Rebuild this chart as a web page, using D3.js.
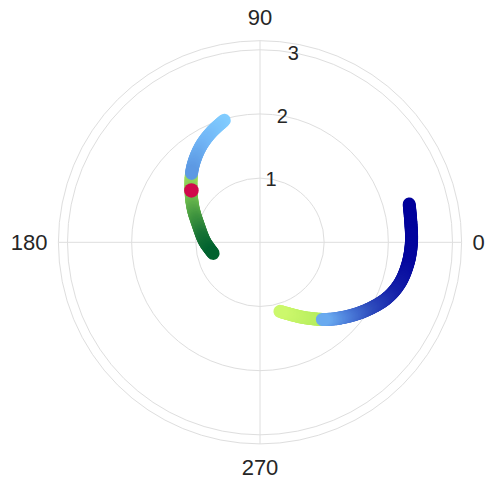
<!DOCTYPE html>
<html>
<head>
<meta charset="utf-8">
<script src="https://cdn.jsdelivr.net/npm/d3@7"></script>
<style>
  html, body { margin: 0; padding: 0; background: #ffffff; }
  svg { display: block; font-family: "Liberation Sans", Arial, sans-serif; }
</style>
</head>
<body>
<svg id="chart" width="488" height="483"></svg>
<script>
// Spiral arc A (right side): angle in degrees, radius
const arcATheta = [14.4, 7.2, 0, -8.1, -16.3, -23.8, -32.4, -40.6, -49.1, -60.1, -73.9];
const arcAR     = [2.40, 2.37, 2.36, 2.33, 2.27, 2.16, 1.97, 1.78, 1.59, 1.35, 1.12];
// Spiral arc B (left side)
const arcBTheta = [106.3, 113.6, 120.9, 127.7, 134.0, 142.8, 153.0, 164.3, 179.4, 193.3];
const arcBR     = [1.98, 1.88, 1.77, 1.65, 1.53, 1.35, 1.17, 1.00, 0.86, 0.75];
// Angle where each arc changes from its green part to its blue part
const arcASplit = -51;
const arcBSplit = 135;
// Highlighted point
const markerTheta = [142.9];
const markerR     = [1.34];
// Axis ticks
const radialTicks  = [1, 2, 3];
const angularTicks = [0, 90, 180, 270];
const rMax = Math.PI;

const width = 488, height = 483;
const cx = 260, cy = 242.3, outerR = 201.6;
const svg = d3.select("#chart");

const rScale = d3.scaleLinear().domain([0, rMax]).range([0, outerR]);
// math angle (deg, counter-clockwise from east) -> d3 radial angle (rad, clockwise from north)
const aScale = d3.scaleLinear().domain([0, 360]).range([Math.PI / 2, Math.PI / 2 - 2 * Math.PI]);

const g = svg.append("g").attr("transform", `translate(${cx},${cy})`);
const gridColor = "#dedede";

// grid circles
g.selectAll("circle.grid")
  .data(radialTicks.concat([rMax]))
  .join("circle")
  .attr("class", "grid")
  .attr("r", d => rScale(d))
  .attr("fill", "none")
  .attr("stroke", gridColor)
  .attr("stroke-width", 1);

// angular grid lines
g.selectAll("line.spoke")
  .data(angularTicks)
  .join("line")
  .attr("class", "spoke")
  .attr("x1", 0).attr("y1", 0)
  .attr("x2", d => outerR * Math.cos(d * Math.PI / 180))
  .attr("y2", d => -outerR * Math.sin(d * Math.PI / 180))
  .attr("stroke", gridColor)
  .attr("stroke-width", 1);

// radial tick labels along the 80 degree direction
const labelAngle = 80 * Math.PI / 180;
g.selectAll("text.rtick")
  .data(radialTicks)
  .join("text")
  .attr("class", "rtick")
  .attr("x", d => rScale(d) * Math.cos(labelAngle))
  .attr("y", d => -rScale(d) * Math.sin(labelAngle))
  .attr("text-anchor", "middle")
  .attr("dominant-baseline", "central")
  .attr("font-size", 20)
  .attr("fill", "#262626")
  .text(d => d);

// angular tick labels outside the outer circle
g.selectAll("text.atick")
  .data(angularTicks)
  .join("text")
  .attr("class", "atick")
  .attr("text-anchor", "middle")
  .attr("dominant-baseline", "central")
  .attr("font-size", 22)
  .attr("fill", "#262626")
  .text(d => d)
  .each(function(d) {
    const bb = this.getBBox();
    const a = d * Math.PI / 180;
    const ext = Math.abs(Math.cos(a)) * bb.width / 2 + Math.abs(Math.sin(a)) * bb.height / 2;
    const dist = outerR + 11 + ext;
    d3.select(this)
      .attr("x", dist * Math.cos(a))
      .attr("y", -dist * Math.sin(a));
  });

// colour ramps for each part of the arcs (t = 0 at the split end)
const ramps = {
  aGreen: d3.scaleLinear().domain([0, 1]).range(["#b2ec5c", "#cdf86c"]),
  aBlue:  d3.scaleLinear().domain([0, 0.12, 0.28, 0.45, 0.65, 1])
            .range(["#6aabf0", "#4f82dc", "#2e4bbc", "#1520a8", "#05079e", "#00009b"]),
  bBlue:  d3.scaleLinear().domain([0, 0.5, 1]).range(["#5c98e2", "#72b6f6", "#82ceff"]),
  bGreen: d3.scaleLinear().domain([0, 0.2, 0.45, 0.7, 1])
            .range(["#a8e262", "#78c452", "#3f943f", "#187436", "#00612f"])
};

const lineW = 13;
const radial = d3.lineRadial()
  .angle(d => aScale(d[0]))
  .radius(d => rScale(d[1]))
  .curve(d3.curveCatmullRom.alpha(0.5));

function drawArc(thetas, radii, split, parts) {
  const pts = thetas.map((t, i) => [t, radii[i]]);
  const ref = d3.mean(thetas);
  const tmp = g.append("path").attr("d", radial(pts)).attr("fill", "none");
  const node = tmp.node();
  const L = node.getTotalLength();
  const n = Math.ceil(L / 1.5);
  const samples = d3.range(n + 1).map(i => node.getPointAtLength(L * i / n));
  tmp.remove();
  const first = thetas[0], last = thetas[thetas.length - 1];
  const segs = [];
  for (let i = 0; i < n; i++) {
    const p = samples[i], q = samples[i + 1];
    let ang = Math.atan2(-(p.y + q.y) / 2, (p.x + q.x) / 2) * 180 / Math.PI;
    while (ang - ref > 180) ang -= 360;
    while (ang - ref < -180) ang += 360;
    // which side of the split this segment lies on
    const onFirstSide = (first > split) ? ang >= split : ang <= split;
    const part = onFirstSide ? parts.first : parts.last;
    const endA = onFirstSide ? first : last;
    const t = Math.max(0, Math.min(1, (ang - split) / (endA - split)));
    segs.push({ p, q, color: part.ramp(t), order: part.order });
  }
  segs.sort((a, b) => a.order - b.order);
  g.append("g").selectAll("line")
    .data(segs)
    .join("line")
    .attr("x1", d => d.p.x).attr("y1", d => d.p.y)
    .attr("x2", d => d.q.x).attr("y2", d => d.q.y)
    .attr("stroke", d => d.color)
    .attr("stroke-width", lineW)
    .attr("stroke-linecap", "round");
}

drawArc(arcATheta, arcAR, arcASplit, {
  first: { ramp: ramps.aBlue, order: 1 },
  last:  { ramp: ramps.aGreen, order: 0 }
});
drawArc(arcBTheta, arcBR, arcBSplit, {
  first: { ramp: ramps.bBlue, order: 1 },
  last:  { ramp: ramps.bGreen, order: 0 }
});

// highlighted point
g.selectAll("circle.marker")
  .data(markerTheta.map((t, i) => [t, markerR[i]]))
  .join("circle")
  .attr("class", "marker")
  .attr("cx", d => rScale(d[1]) * Math.cos(d[0] * Math.PI / 180))
  .attr("cy", d => -rScale(d[1]) * Math.sin(d[0] * Math.PI / 180))
  .attr("r", 7.3)
  .attr("fill", "#d00a4c");
</script>
</body>
</html>
